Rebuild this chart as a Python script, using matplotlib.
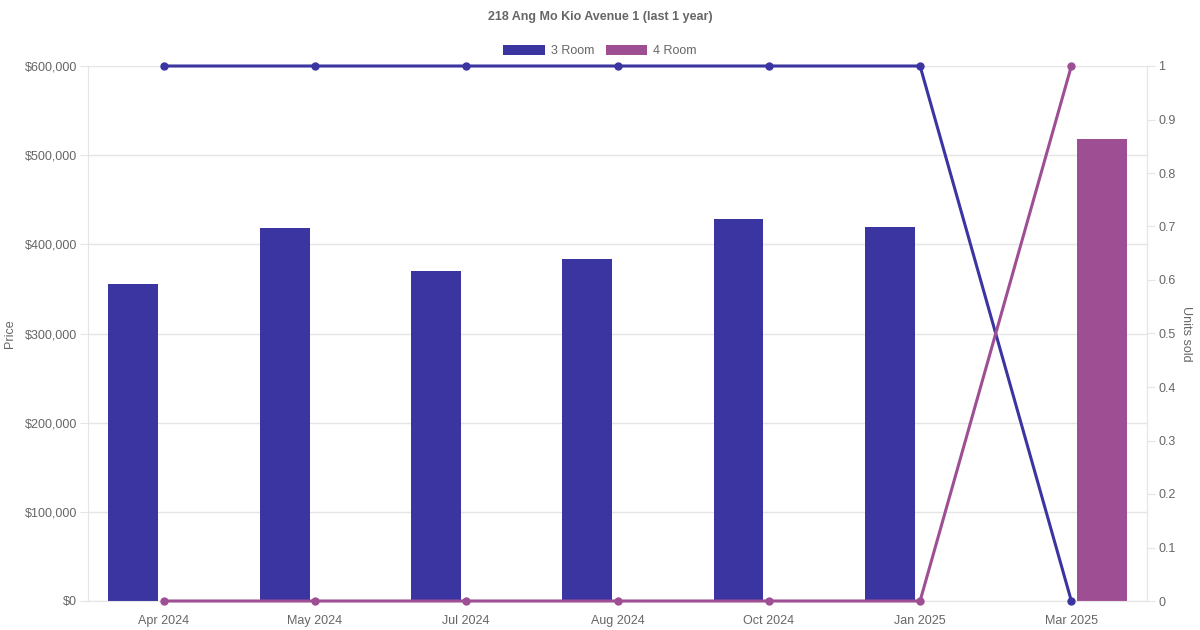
import matplotlib.pyplot as plt
from matplotlib.patches import Patch
from matplotlib.ticker import FuncFormatter, MultipleLocator
import numpy as np

plt.rcParams['font.family'] = ['Liberation Sans', 'DejaVu Sans']

months = ['Apr 2024', 'May 2024', 'Jul 2024', 'Aug 2024', 'Oct 2024', 'Jan 2025', 'Mar 2025']
price_3room = [355000, 418000, 370000, 383000, 428000, 420000, 0]
price_4room = [0, 0, 0, 0, 0, 0, 518000]
units_3room = [1, 1, 1, 1, 1, 1, 0]
units_4room = [0, 0, 0, 0, 0, 0, 1]

c3 = '#3a35a0'
c4 = '#9e4f94'
txt = '#666666'
grid = '#e5e5e5'

fig = plt.figure(figsize=(12, 6.3), dpi=100)
ax = fig.add_axes([88 / 1200, 29 / 630, 1059 / 1200, 535 / 630])
x = np.arange(len(months))

ax.bar(x - 0.2, price_3room, width=0.33, color=c3, zorder=2)
ax.bar(x + 0.2, price_4room, width=0.33, color=c4, zorder=2)

ax.set_xlim(-0.5, len(months) - 0.5)
ax.set_ylim(0, 600000)
ax.yaxis.set_major_locator(MultipleLocator(100000))
ax.yaxis.set_major_formatter(FuncFormatter(lambda v, p: f'${v:,.0f}'))
ax.set_xticks(x)
ax.set_xticklabels(months)
ax.grid(axis='y', color=grid, linewidth=1, zorder=0)
ax.tick_params(axis='y', colors=grid, labelcolor=txt, labelsize=9, length=6, pad=2)
ax.tick_params(axis='x', colors=grid, labelcolor=txt, labelsize=9, length=0, pad=10)
ax.spines['top'].set_visible(False)
for s in ['left', 'right', 'bottom']:
    ax.spines[s].set_color(grid)
ax.set_ylabel('Price', color=txt, fontsize=9)
ax.yaxis.set_label_coords(-0.068, 0.5)

ax2 = ax.twinx()
ax2.plot(x, units_3room, color=c3, linewidth=2.2, marker='o', markersize=5, zorder=3)
ax2.plot(x, units_4room, color=c4, linewidth=2.2, marker='o', markersize=5, zorder=3)
ax2.set_ylim(0, 1)
ax2.yaxis.set_major_locator(MultipleLocator(0.1))
ax2.yaxis.set_major_formatter(FuncFormatter(lambda v, p: f'{v:g}'))
ax2.tick_params(axis='y', colors=grid, labelcolor=txt, labelsize=9, length=6, pad=2)
for s in ['top', 'left', 'bottom']:
    ax2.spines[s].set_visible(False)
ax2.spines['right'].set_color(grid)
ax2.set_ylabel('Units sold', color=txt, fontsize=9, rotation=270, va='center')
ax2.yaxis.set_label_coords(1.0368, 0.5)
for l in ax2.lines:
    l.set_clip_on(False)

fig.text(0.5, 1 - 17 / 630, '218 Ang Mo Kio Avenue 1 (last 1 year)', ha='center', va='center',
         fontsize=9, fontweight='bold', color=txt)
handles = [Patch(facecolor=c3, label='3 Room'), Patch(facecolor=c4, label='4 Room')]
fig.legend(handles=handles, loc='center', bbox_to_anchor=(0.5, 1 - 51 / 630), ncol=2, frameon=False,
           fontsize=9, labelcolor=txt, handlelength=3.3, handleheight=0.9, handletextpad=0.5,
           columnspacing=0.9)

fig.savefig('out.png', dpi=100)
